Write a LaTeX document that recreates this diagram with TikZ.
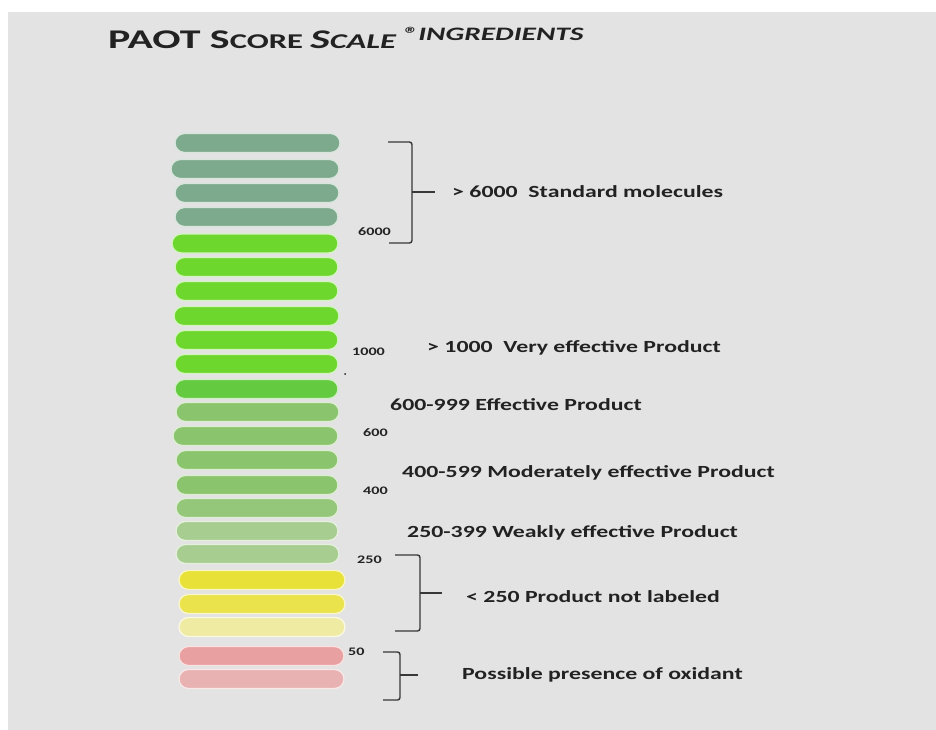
\documentclass[tikz,border=0pt]{standalone}
\usepackage{fontspec}
\setmainfont{Carlito}
\newcommand\widetext[1]{\scalebox{1.4}[1]{#1}}
\newcommand\titletext[1]{\scalebox{1.55}[1]{#1}}
\definecolor{panel}{HTML}{E3E3E3}
\definecolor{sage}{HTML}{7DAA8C}
\definecolor{bright}{HTML}{6ED72D}
\definecolor{brightb}{HTML}{64CA40}
\definecolor{midgreen}{HTML}{8AC46C}
\definecolor{midgreenb}{HTML}{94C77A}
\definecolor{palegreen}{HTML}{A8CD90}
\definecolor{yellowA}{HTML}{E8E238}
\definecolor{yellowB}{HTML}{EAE34C}
\definecolor{yellowC}{HTML}{EFEBA2}
\definecolor{pinkA}{HTML}{E8A0A0}
\definecolor{pinkB}{HTML}{E9B2B2}
\definecolor{ink}{HTML}{222222}
\definecolor{bracketgray}{HTML}{383838}
\begin{document}
\begin{tikzpicture}[x=1pt,y=-1pt,
  lbl/.style={anchor=west, inner sep=0pt, text=ink, font=\fontsize{17}{17}\selectfont\bfseries},
  num/.style={anchor=west, inner sep=0pt, text=ink, font=\fontsize{11.5}{12}\selectfont\bfseries},
  brk/.style={draw=bracketgray, line width=1.4pt, rounded corners=2.5pt}]
% canvas and grey panel
\useasboundingbox (0,0) rectangle (936,730);
\fill[white] (0,0) rectangle (936,730);
\fill[panel] (8,12) rectangle (936,730);

% title
\node[anchor=base west, inner sep=0pt, text=ink] (title) at (108,49)
  {\titletext{\bfseries\fontsize{27}{27}\selectfont PAOT S\fontsize{21}{21}\selectfont CORE
   \itshape\fontsize{27}{27}\selectfont S\fontsize{21}{21}\selectfont CALE
   \raisebox{8pt}{\fontsize{19}{19}\selectfont ®INGREDIENTS}}};

% colour scale bars: centre y / left x / right x / colour
\foreach \yc/\xl/\xr/\c in {
  143/175/340/sage, 169/171/339/sage, 193/175/339/sage, 217/175/338/sage,
  243.5/172/338/bright, 267/175/338/bright, 291/175/338/bright,
  316/174/339/bright, 340/175/338/bright, 364/175/338/bright,
  389/175/338/brightb,
  412/176/339/midgreen, 436/173/338/midgreen, 460/176/338/midgreen,
  485/176/338/midgreen, 508/176/338/midgreenb,
  531/176/338/palegreen, 554/176/339/palegreen,
  580/179/345/yellowA, 604/179/345/yellowB, 627/179/345/yellowC,
  656/179/344/pinkA, 679/179/344/pinkB}
{
  \path[fill=\c, draw=\c!30!white, line width=1.3pt, rounded corners=9.5pt]
    (\xl,\yc-9.5) rectangle (\xr,\yc+9.5);
}

% threshold values beside the scale
\node[num] (n6000) at (358,232) {\widetext{6000}};
\node[num] (n1000) at (352,352) {\widetext{1000}};
\node[num] (n600)  at (363,433) {\widetext{600}};
\node[num] (n400)  at (363,491) {\widetext{400}};
\node[num] (n250)  at (357,560) {\widetext{250}};
\node[num] (n50)   at (348,652) {\widetext{50}};
\fill[ink] (345,374) circle (1pt);

% range descriptions
\node[lbl] (std)  at (452,192) {\widetext{> 6000\ \ Standard molecules}};
\node[lbl] (very) at (427,348) {\widetext{> 1000\ \ Very effective Product}};
\node[lbl] (eff)  at (390,405) {\widetext{600-999 Effective Product}};
\node[lbl] (mod)  at (402,473) {\widetext{400-599 Moderately effective Product}};
\node[lbl] (weak) at (407,533) {\widetext{250-399 Weakly effective Product}};
\node[lbl] (notl) at (466,597) {\widetext{< 250 Product not labeled}};
\node[lbl] (oxid) at (462,675) {\widetext{Possible presence of oxidant}};

% brackets grouping the ranges
\coordinate (b1a) at (388,142); \coordinate (b1b) at (389,243);
\coordinate (b1m) at (412,192); \coordinate (b1e) at (435,192);
\draw[brk] (b1a) -| (b1m) |- (b1b);
\draw[brk] (b1m) -- (b1e);

\coordinate (b2a) at (395,555); \coordinate (b2b) at (395,631);
\coordinate (b2m) at (420,593); \coordinate (b2e) at (442,593);
\draw[brk] (b2a) -| (b2m) |- (b2b);
\draw[brk] (b2m) -- (b2e);

\coordinate (b3a) at (383,652); \coordinate (b3b) at (383,700);
\coordinate (b3m) at (400,675); \coordinate (b3e) at (418,675);
\draw[brk] (b3a) -| (b3m) |- (b3b);
\draw[brk] (b3m) -- (b3e);
\end{tikzpicture}
\end{document}
